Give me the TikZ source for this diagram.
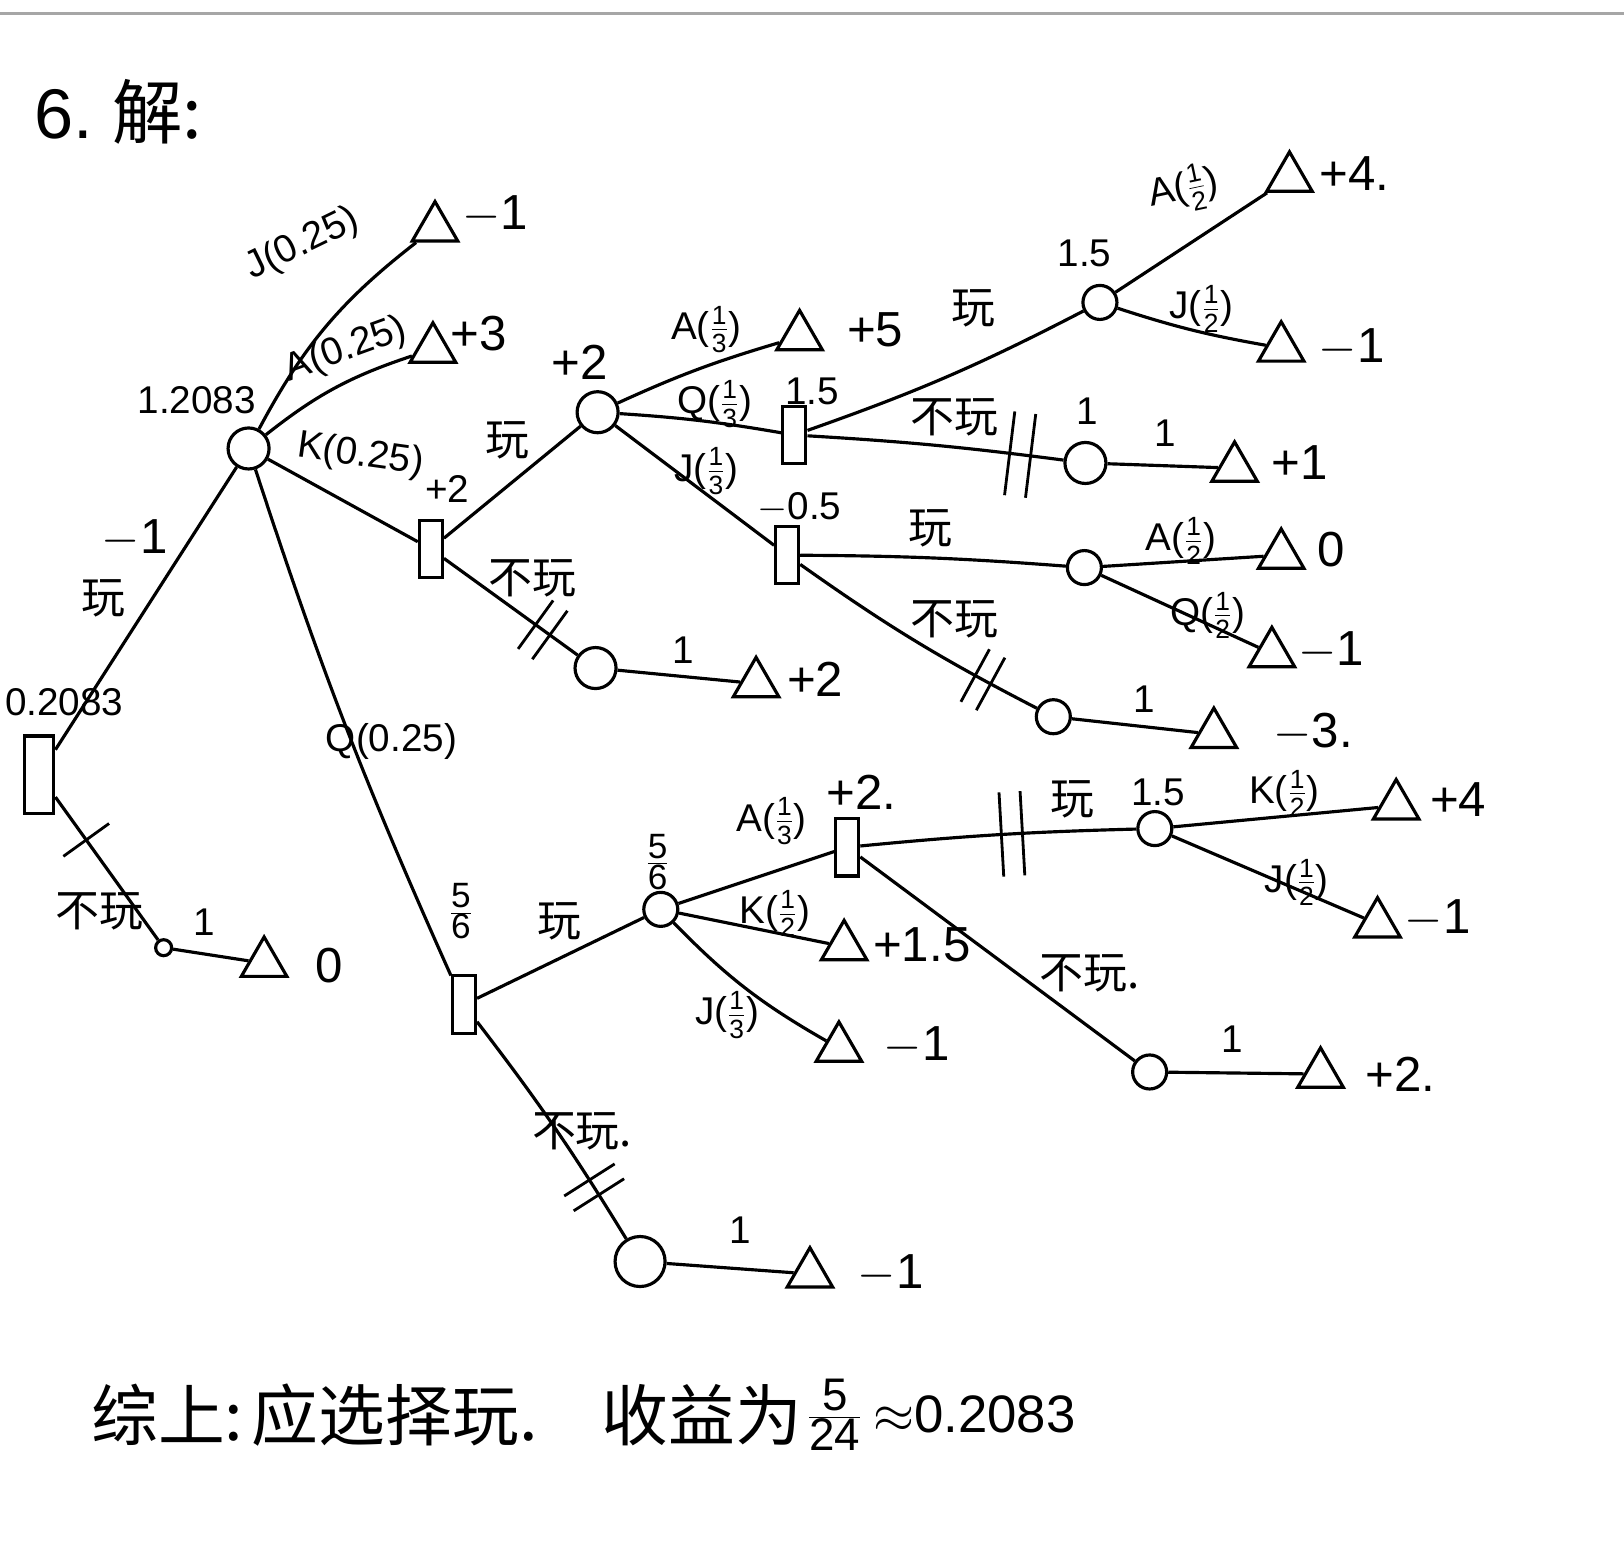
\documentclass[tikz,border=0pt]{standalone}
\usepackage{fix-cm}
\usepackage{fontspec}
\setmainfont{Liberation Sans}
\newfontfamily\cjk{Noto Sans CJK SC}
\usetikzlibrary{shapes.geometric,decorations.markings}
\newcommand\myfrac[3][15]{\ensuremath{\frac{\mbox{\fontsize{#1}{#1}\selectfont #2}}{\mbox{\fontsize{#1}{#1}\selectfont #3}}}}
\tikzset{
  dec/.style={draw, rectangle, minimum width=0.46cm, minimum height=1.15cm, inner sep=0pt},
  rootdec/.style={draw, rectangle, minimum width=0.58cm, minimum height=1.55cm, inner sep=0pt},
  chance/.style={draw, circle, minimum size=0.82cm, inner sep=0pt},
  midchance/.style={draw, circle, minimum size=0.68cm, inner sep=0pt},
  smallchance/.style={draw, circle, minimum size=0.32cm, inner sep=0pt},
  term/.style={draw, regular polygon, regular polygon sides=3, minimum size=1.05cm, inner sep=0pt},
  val/.style={font=\fontsize{28}{30}\selectfont, inner sep=1pt},
  lab/.style={font=\fontsize{22}{24}\selectfont, inner sep=1pt},
  cn/.style={font=\cjk\fontsize{25}{27}\selectfont, inner sep=1pt},
  bottomcn/.style={anchor=west, font=\cjk\fontsize{38}{40}\selectfont, inner sep=1pt},
  cutone/.style={postaction={decorate,decoration={markings,mark=at position #1 with {\draw[line width=1.6pt] (0pt,-16pt)--(0pt,16pt);}}}},
  cuttwo/.style={postaction={decorate,decoration={markings,mark=at position #1 with {\draw[line width=1.6pt] (-5pt,-17pt)--(-5pt,17pt) (5pt,-17pt)--(5pt,17pt);}}}},
  cutlong/.style={postaction={decorate,decoration={markings,mark=at position #1 with {\draw[line width=1.6pt] (-6pt,-24pt)--(-6pt,24pt) (6pt,-24pt)--(6pt,24pt);}}}},
}
\begin{document}
\begin{tikzpicture}[x=0.0207cm,y=-0.0207cm,line width=1.8pt]
\useasboundingbox (0,0) rectangle (1568,1491);
\draw[gray!70,line width=1.2pt] (0,13) -- (1568,13);

% title
\node[anchor=west,font=\fontsize{40}{42}\selectfont] (title) at (26,108) {6.\ {\cjk 解:}};

% decision nodes
\node[rootdec] (R0) at (38,748) {};
\node[dec] (R2) at (416,530) {};
\node[dec] (R3) at (448,970) {};
\node[dec] (R4) at (767,420) {};
\node[dec] (R5) at (760,536) {};
\node[dec] (R6) at (818,818) {};

% chance nodes
\node[chance] (C1) at (240,433) {};
\node[chance] (C2) at (577,398) {};
\node[midchance] (C3) at (1062,292) {};
\node[chance] (c4n) at (1048,447) {};
\node[midchance] (C5p) at (1047,548) {};
\node[midchance] (c5n) at (1017,692) {};
\node[midchance] (C4) at (638,878) {};
\node[midchance] (C5) at (1115,800) {};
\node[midchance] (c6n) at (1110,1035) {};
\node[chance,minimum size=1cm] (c3n) at (618,1218) {};
\node[chance] (c2n) at (575,645) {};
\node[smallchance] (s0) at (158,915) {};

% terminal nodes
\node[term] (T1) at (420,220) {};
\node[term] (T2) at (418,337) {};
\node[term] (T0) at (255,930) {};
\node[term] (T2n) at (730,660) {};
\node[term] (T5) at (772,325) {};
\node[term] (T4a) at (1245,172) {};
\node[term] (T4b) at (1237,336) {};
\node[term] (Tp1) at (1192,452) {};
\node[term] (T0b) at (1237,536) {};
\node[term] (Tm1b) at (1228,631) {};
\node[term] (Tm3) at (1172,709) {};
\node[term] (T4c) at (1348,778) {};
\node[term] (Tm1d) at (1330,892) {};
\node[term] (T15) at (815,914) {};
\node[term] (Tm1c) at (810,1012) {};
\node[term] (Tp2) at (1275,1037) {};
\node[term] (Tbot) at (782,1230) {};

% connectors
\draw (R0) -- (C1);
\draw[cutone=0.3] (R0) -- (s0);
\draw (s0) -- (T0);
\draw (C1) to[bend left=12] (T1);
\draw (C1) to[bend left=10] (T2);
\draw (C1) -- (R2);
\draw (C1) to[bend right=3] (R3);
\draw (R2) -- (C2);
\draw[cuttwo=0.74] (R2) -- (c2n);
\draw (c2n) -- (T2n);
\draw (C2) to[bend left=4] (T5);
\draw (C2) to[bend left=3] (R4);
\draw (C2) -- (R5);
\draw (R4) to[bend right=4] (C3);
\draw (C3) -- (T4a);
\draw (C3) to[bend right=4] (T4b);
\draw[cutlong=0.83] (R4) to[bend left=2] (c4n);
\draw (c4n) -- (Tp1);
\draw (R5) to[bend left=2] (C5p);
\draw (C5p) -- (T0b);
\draw (C5p) -- (Tm1b);
\draw[cuttwo=0.78] (R5) to[bend right=4] (c5n);
\draw (c5n) -- (Tm3);
\draw (R3) -- (C4);
\draw[cuttwo=0.77] (R3) to[bend left=3] (c3n);
\draw (c3n) -- (Tbot);
\draw (C4) -- (R6);
\draw (C4) -- (T15);
\draw (C4) to[bend right=8] (Tm1c);
\draw[cutlong=0.55] (R6) to[bend left=2] (C5);
\draw (C5) -- (T4c);
\draw (C5) -- (Tm1d);
\draw (R6) -- (c6n);
\draw (c6n) -- (Tp2);

% root labels
\node[lab] (v0) at (62,678) {0.2083};
\node[cn] (p0) at (100,578) {玩};
\node[val] (m0) at (130,520) {$-$1};
\node[cn] (n0) at (96,880) {不玩};
\node[lab] (o0) at (197,890) {1};
\node[val] (t0v) at (318,932) {0};

% C1 labels
\node[lab] (v1) at (190,386) {1.2083};
\node[lab,rotate=26] (lJ) at (292,236) {J(0.25)};
\node[lab,rotate=20] (lA) at (334,338) {A(0.25)};
\node[lab,rotate=-8] (lK) at (348,440) {K(0.25)};
\node[lab] (lQ) at (378,716) {Q(0.25)};
\node[val] (t1v) at (478,207) {$-$1};
\node[val] (t2v) at (462,322) {+3};
\node[lab] (r2v) at (432,472) {+2};
\node[lab] (r3v) at (445,880) {\myfrac[20]{5}{6}};

% R2 subtree
\node[cn] (p2) at (490,425) {玩};
\node[val] (c2v) at (560,350) {+2};
\node[cn] (n2) at (514,558) {不玩};
\node[lab] (o2) at (660,628) {1};
\node[val] (t2nv) at (787,656) {+2};
\node[lab] (lA2) at (682,318) {A(\myfrac{1}{3})};
\node[val] (t5v) at (845,318) {+5};
\node[lab] (lQ2) at (690,390) {Q(\myfrac{1}{3})};
\node[lab] (r4v) at (784,378) {1.5};
\node[lab] (lJ2) at (682,455) {J(\myfrac{1}{3})};
\node[lab] (r5v) at (772,490) {$-$0.5};

% R4 subtree
\node[cn] (p4) at (940,298) {玩};
\node[lab] (c3v) at (1047,245) {1.5};
\node[lab,rotate=12] (lA3) at (1143,183) {A(\myfrac{1}{2})};
\node[val] (t4av) at (1308,168) {+4.};
\node[lab] (lJ3) at (1160,298) {J(\myfrac{1}{2})};
\node[val] (t4bv) at (1305,336) {$-$1};
\node[cn] (n4) at (922,403) {不玩};
\node[lab] (c4v) at (1050,397) {1};
\node[lab] (o4) at (1125,418) {1};
\node[val] (tp1v) at (1255,447) {+1};

% R5 subtree
\node[cn] (p5) at (898,510) {玩};
\node[lab] (lA5) at (1140,522) {A(\myfrac{1}{2})};
\node[val] (t0bv) at (1285,531) {0};
\node[lab] (lQ5) at (1166,594) {Q(\myfrac{1}{2})};
\node[val] (tm1bv) at (1285,628) {$-$1};
\node[cn] (n5) at (922,598) {不玩};
\node[lab] (o5) at (1105,675) {1};
\node[val] (tm3v) at (1268,707) {$-$3.};

% R3 subtree
\node[cn] (p3) at (540,890) {玩};
\node[lab] (c4val) at (635,832) {\myfrac[20]{5}{6}};
\node[lab] (lA4) at (745,793) {A(\myfrac{1}{3})};
\node[val] (r6v) at (832,765) {+2.};
\node[lab] (lK4) at (748,882) {K(\myfrac{1}{2})};
\node[val] (t15v) at (890,912) {+1.5};
\node[lab] (lJ4) at (702,980) {J(\myfrac{1}{3})};
\node[val] (tm1cv) at (885,1010) {$-$1};
\node[cn] (n3) at (562,1092) {不玩.};
\node[lab] (o3) at (715,1188) {1};
\node[val] (tbotv) at (860,1230) {$-$1};

% R6 subtree
\node[cn] (p6) at (1035,772) {玩};
\node[lab] (c5v) at (1118,765) {1.5};
\node[lab] (lK6) at (1240,766) {K(\myfrac{1}{2})};
\node[val] (t4cv) at (1408,772) {+4};
\node[lab] (lJ6) at (1252,852) {J(\myfrac{1}{2})};
\node[val] (tm1dv) at (1388,887) {$-$1};
\node[cn] (n6) at (1052,940) {不玩.};
\node[lab] (o6) at (1190,1003) {1};
\node[val] (tp2v) at (1352,1037) {+2.};

% conclusion
\node[bottomcn] (b1) at (85,1366) {综上:};
\node[bottomcn] (b2) at (240,1366) {应选择玩.};
\node[bottomcn] (b3) at (578,1366) {收益为};
\node[font=\fontsize{30}{32}\selectfont] (b4) at (806,1366) {\myfrac[26]{5}{24}};
\node[anchor=west,font=\fontsize{30}{32}\selectfont] (b5) at (836,1366) {$\approx$0.2083};
\end{tikzpicture}
\end{document}
